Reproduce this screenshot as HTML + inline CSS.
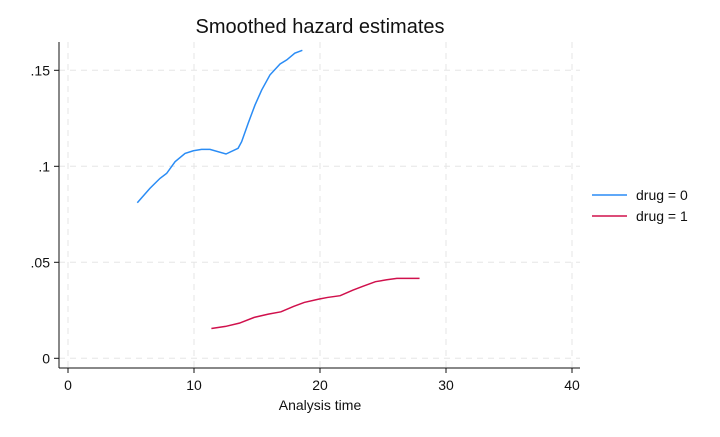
<!DOCTYPE html>
<html><head><meta charset="utf-8"><style>
body{margin:0;background:#fff;font-family:"Liberation Sans",Arial,sans-serif}
svg text{font-family:"Liberation Sans",Arial,sans-serif;fill:#111}
</style></head><body>
<svg width="720" height="432" viewBox="0 0 720 432">
<rect width="720" height="432" fill="#fff"/>
<g id="grid"></g>
<g id="axes"></g>
<g id="series"></g>
<text x="320" y="33" font-size="20" text-anchor="middle">Smoothed hazard estimates</text>
<text x="320" y="410" font-size="14" text-anchor="middle">Analysis time</text>
<g>
<g><line x1="592" y1="195" x2="627" y2="195" stroke="#2a8cf5" stroke-width="1.5"/><text x="636" y="200" font-size="14">drug = 0</text></g>
<g><line x1="592" y1="216" x2="627" y2="216" stroke="#d0104c" stroke-width="1.5"/><text x="636" y="221" font-size="14">drug = 1</text></g>
</g>
</svg>
<script>
const xTicks=[0,10,20,30,40];
const yTicks=[0,0.05,0.1,0.15];
const yTickLabels=["0",".05",".1",".15"];
const drug0T=[5.5,6.5,7.3,7.83,8.5,9.29,9.95,10.6,11.27,12.54,13.5,13.78,14.3,14.84,15.37,16.03,16.83,17.36,18.0,18.6];
const drug0H=[.081,.0885,.0937,.0963,.1024,.1067,.1081,.1088,.1088,.1064,.1094,.1128,.1224,.1319,.1397,.1476,.1533,.1554,.1589,.1604];
const drug1T=[11.38,12.5,13.6,14.78,15.9,16.9,17.9,18.75,19.9,20.6,21.6,22.6,23.4,24.4,25.3,26.1,27.9];
const drug1H=[.0155,.0166,.0183,.0213,.0230,.0242,.0270,.0291,.0308,.0317,.0326,.0355,.0375,.0399,.0409,.0416,.0416];
const X=t=>68+t*12.6, Y=h=>358.3-h*1920;
const NS="http://www.w3.org/2000/svg";
function mk(tag,attrs,parent){const e=document.createElementNS(NS,tag);for(const k in attrs)e.setAttribute(k,attrs[k]);parent.appendChild(e);return e;}
const grid=document.getElementById('grid'),axes=document.getElementById('axes'),series=document.getElementById('series');
xTicks.forEach(t=>{const l=mk('line',{x1:X(t),x2:X(t),y1:42,y2:368,stroke:'#e6e6e6','stroke-dasharray':'6,5'},grid);


mk('line',{x1:X(t),x2:X(t),y1:368,y2:373,stroke:'#111'},axes);
const tx=mk('text',{x:X(t),y:390,'font-size':14,'text-anchor':'middle'},axes);tx.textContent=t;

});
yTicks.forEach((v,i)=>{const l=mk('line',{x1:59,x2:580,y1:Y(v),y2:Y(v),stroke:'#e6e6e6','stroke-dasharray':'6,5'},grid);


mk('line',{x1:54,x2:59,y1:Y(v),y2:Y(v),stroke:'#111'},axes);
const tx=mk('text',{x:50,y:Y(v)+5,'font-size':14,'text-anchor':'end'},axes);tx.textContent=yTickLabels[i];

});
const ax=mk('line',{x1:59,x2:59,y1:42,y2:368,stroke:'#111'},axes);


const bx=mk('line',{x1:59,x2:580,y1:368,y2:368,stroke:'#111'},axes);


function line(T,H,c,n){const p=mk('polyline',{points:T.map((t,i)=>X(t)+','+Y(H[i])).join(' '),fill:'none',stroke:c,'stroke-width':1.5},series);

}
line(drug0T,drug0H,'#2a8cf5','line-drug-0');
line(drug1T,drug1H,'#d0104c','line-drug-1');
</script>
</body></html>
